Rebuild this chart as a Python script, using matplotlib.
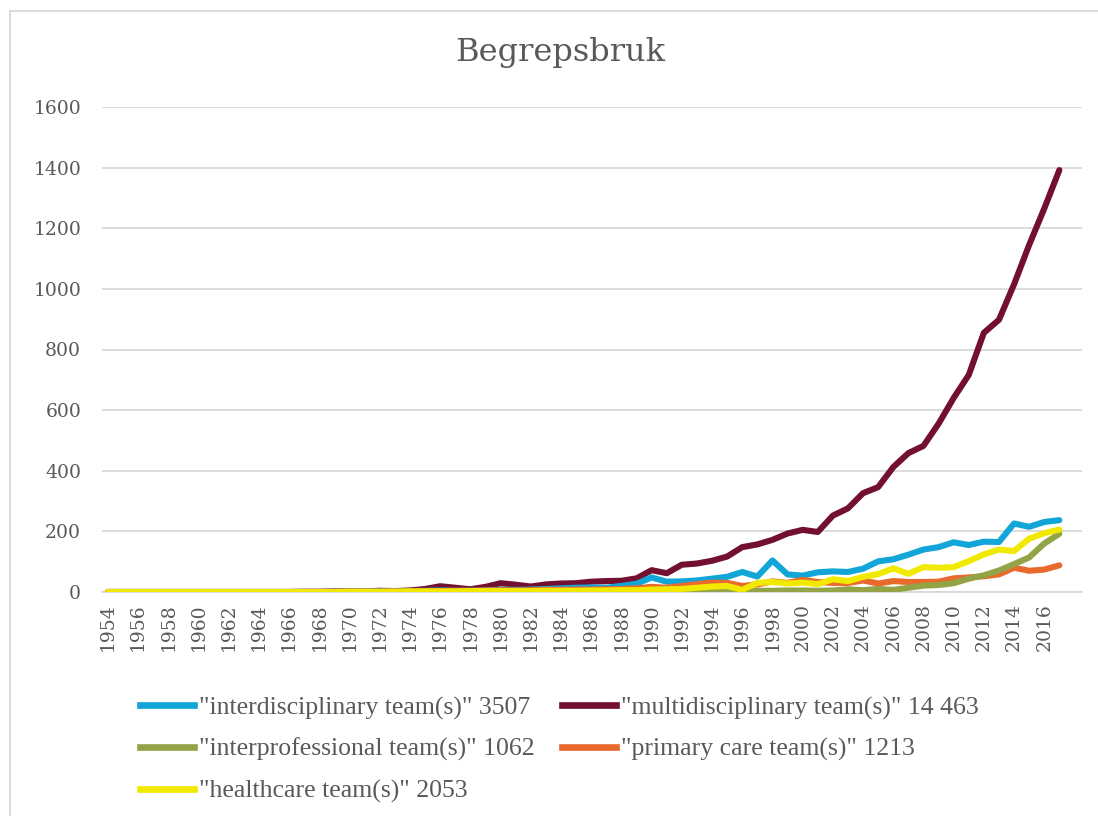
import numpy as np
import matplotlib
matplotlib.use("Agg")
import matplotlib.pyplot as plt
from matplotlib.lines import Line2D

years = list(range(1954, 2018))

# 1954..2017 (1954-1969 all zero)
interdisciplinary = [0]*16 + [1, 1, 2, 2, 3, 4, 5, 4, 4, 5,
                              8, 7, 8, 10, 12, 14, 15, 14, 20, 27,
                              48, 34, 35, 38, 44, 50, 66, 51, 104, 58,
                              54, 65, 68, 66, 77, 101, 108, 123, 140, 148,
                              164, 155, 166, 165, 226, 215, 231, 237]
multidisciplinary = [0]*13 + [1, 1, 2,
                             2, 2, 4, 3, 5, 10, 19, 14, 9, 17,
                             29, 24, 18, 25, 28, 29, 34, 36, 37, 45,
                             72, 62, 90, 94, 103, 117, 148, 157, 172, 193,
                             205, 198, 252, 276, 326, 346, 412, 458, 482, 555,
                             640, 716, 855, 898, 1015, 1145, 1265, 1392]
interprofessional = [0]*36 + [1, 1, 1, 2, 2, 3, 3, 4, 4, 5,
                              5, 4, 5, 9, 6, 10, 7, 14, 21, 23,
                              29, 44, 55, 71, 92, 114, 160, 192]
primary_care = [0]*16 + [1, 1, 1, 2, 2, 3, 3, 4, 4, 5,
                         6, 5, 6, 7, 7, 8, 8, 9, 10, 12,
                         17, 14, 20, 26, 31, 30, 20, 25, 35, 30,
                         40, 33, 30, 30, 38, 28, 36, 33, 33, 34,
                         45, 48, 52, 58, 80, 70, 74, 88]
healthcare = [0]*16 + [1, 1, 1, 1, 2, 2, 2, 2, 3, 3,
                       3, 3, 3, 4, 4, 4, 5, 5, 6, 6,
                       8, 9, 10, 14, 18, 20, 7, 30, 33, 28,
                       31, 26, 42, 36, 50, 59, 78, 60, 82, 80,
                       82, 102, 124, 140, 135, 176, 194, 206]

labels = ['"interdisciplinary team(s)" 3507', '"multidisciplinary team(s)" 14 463',
          '"interprofessional team(s)" 1062', '"primary care team(s)" 1213',
          '"healthcare team(s)" 2053']
colors = ['#12A6D8', '#73102F', '#93A446', '#E86A2C', '#F2E900']
series = [interdisciplinary, multidisciplinary, interprofessional, primary_care, healthcare]

fig = plt.figure(figsize=(10.98, 8.16), dpi=100)
ax = fig.add_axes([102/1098, 1 - 592/816, 980/1098, 485/816])

# draw order: keep healthcare (yellow) on top as in the reference
order = [1, 0, 3, 2, 4]
for z, i in enumerate(order):
    ax.plot(years, series[i], color=colors[i], lw=4.4, solid_capstyle='round',
            solid_joinstyle='round', zorder=3 + z)

ax.set_xlim(1953.6, 2018.5)
ax.set_ylim(0, 1600)
ax.set_yticks(range(0, 1601, 200))
ax.set_xticks(range(1954, 2017, 2))
ax.set_xticklabels([str(y) for y in range(1954, 2017, 2)], rotation=90)
ax.grid(axis='y', color='#D9D9D9', lw=1.3)
ax.set_axisbelow(True)
for s in ['top', 'right', 'left']:
    ax.spines[s].set_visible(False)
ax.spines['bottom'].set_color('#D9D9D9')
ax.spines['bottom'].set_linewidth(1.3)
ax.tick_params(length=0, labelsize=13.5, labelcolor='#595959', pad=8)
for lab in ax.get_xticklabels() + ax.get_yticklabels():
    lab.set_family('DejaVu Serif')
ax.tick_params(axis='y', pad=15)

fig.text(0.51, 1 - 52/816, 'Begrepsbruk', ha='center', va='center',
         fontsize=23, color='#595959', family='DejaVu Serif')

handles = [Line2D([], [], color=c, lw=4.8) for c in colors]
leg_order = [0, 2, 4, 1, 3]
fig.legend([handles[i] for i in leg_order], [labels[i] for i in leg_order],
           ncol=2, loc='upper left', bbox_to_anchor=(117/1098, 1 - 673/816),
           frameon=False, handlelength=2.1, handletextpad=0.2, columnspacing=1.05,
           labelspacing=0.72, prop={'family': ['Liberation Serif', 'DejaVu Serif'], 'size': 18.5},
           labelcolor='#595959')

# chart area border (left and top edges visible)
fig.add_artist(Line2D([10/1098, 10/1098], [0, 1 - 11/816], color='#D9D9D9', lw=1.3))
fig.add_artist(Line2D([10/1098, 1], [1 - 11/816, 1 - 11/816], color='#D9D9D9', lw=1.3))

fig.savefig('out.png', dpi=100)
